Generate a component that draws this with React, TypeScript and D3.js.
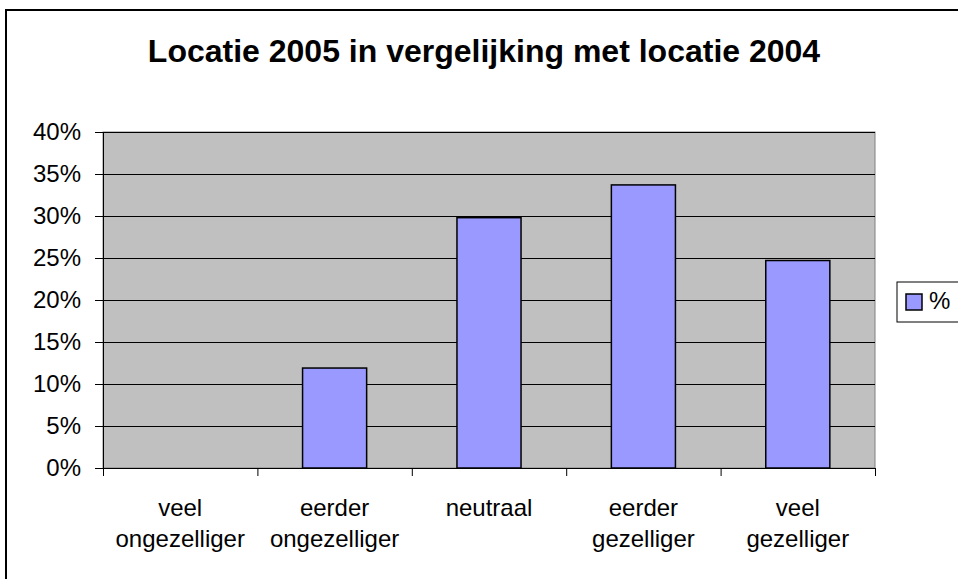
import React, { useEffect, useRef } from 'react';
import * as d3 from 'd3';

const categories = [
  ['veel', 'ongezelliger'],
  ['eerder', 'ongezelliger'],
  ['neutraal'],
  ['eerder', 'gezelliger'],
  ['veel', 'gezelliger'],
];
const values = [0, 11.9, 29.8, 33.7, 24.7];
const yTicks = [0, 5, 10, 15, 20, 25, 30, 35, 40];
const title = 'Locatie 2005 in vergelijking met locatie 2004';
const seriesName = '%';

const App: React.FC = () => {
  const svgRef = useRef<SVGSVGElement>(null);

  useEffect(() => {
    if (!svgRef.current) return;
    const svg = d3.select(svgRef.current);
    svg.selectAll('*').remove();

    const font = '"Liberation Sans", Arial, sans-serif';
    const plot = { left: 103, right: 875, top: 132, bottom: 468 };

    // outer chart frame
    svg.append('rect')
      .attr('x', 6).attr('y', 10)
      .attr('width', 1000).attr('height', 1000)
      .attr('fill', '#fff').attr('stroke', '#000').attr('stroke-width', 2);

    svg.append('text')
      .attr('x', 484).attr('y', 62)
      .attr('text-anchor', 'middle')
      .attr('font-family', font).attr('font-size', 32).attr('font-weight', 'bold')
      .text(title);

    const x = d3.scaleBand<number>()
      .domain(d3.range(categories.length))
      .range([plot.left, plot.right])
      .paddingInner(0.585).paddingOuter(0.2925);
    const band = (plot.right - plot.left) / categories.length;

    const y = d3.scaleLinear().domain([0, 40]).range([plot.bottom, plot.top]);

    svg.append('rect')
      .attr('x', plot.left).attr('y', plot.top)
      .attr('width', plot.right - plot.left).attr('height', plot.bottom - plot.top)
      .attr('fill', '#c0c0c0').attr('stroke', '#808080').attr('stroke-width', 1);

    // grid
    svg.append('g')
      .selectAll('line')
      .data(yTicks.slice(1))
      .join('line')
      .attr('x1', plot.left).attr('x2', plot.right)
      .attr('y1', d => y(d) + 0.5).attr('y2', d => y(d) + 0.5)
      .attr('stroke', '#000').attr('stroke-width', 1);

    // bars
    svg.append('g')
      .selectAll('rect')
      .data(values)
      .join('rect')
      .attr('x', (_, i) => x(i)!)
      .attr('y', d => y(d))
      .attr('width', x.bandwidth())
      .attr('height', d => plot.bottom - y(d))
      .attr('fill', d => (d > 0 ? '#9999ff' : 'none'))
      .attr('stroke', d => (d > 0 ? '#000' : 'none'))
      .attr('stroke-width', 1.5);

    // y axis
    const yAxis = svg.append('g');
    yAxis.append('line')
      .attr('x1', plot.left + 0.5).attr('x2', plot.left + 0.5)
      .attr('y1', plot.top).attr('y2', plot.bottom)
      .attr('stroke', '#000');
    yAxis.selectAll('line.tick')
      .data(yTicks)
      .join('line')
      .attr('class', 'tick')
      .attr('x1', plot.left - 8).attr('x2', plot.left)
      .attr('y1', d => y(d) + 0.5).attr('y2', d => y(d) + 0.5)
      .attr('stroke', '#000');
    yAxis.selectAll('text')
      .data(yTicks)
      .join('text')
      .attr('x', 81).attr('y', d => y(d) + 8)
      .attr('text-anchor', 'end')
      .attr('font-family', font).attr('font-size', 24)
      .text(d => `${d}%`);

    // x axis
    const xAxis = svg.append('g');
    xAxis.append('line')
      .attr('x1', plot.left).attr('x2', plot.right)
      .attr('y1', plot.bottom + 0.5).attr('y2', plot.bottom + 0.5)
      .attr('stroke', '#000');
    xAxis.selectAll('line.tick')
      .data(d3.range(categories.length + 1))
      .join('line')
      .attr('class', 'tick')
      .attr('x1', d => plot.left + d * band + 0.5).attr('x2', d => plot.left + d * band + 0.5)
      .attr('y1', plot.bottom).attr('y2', plot.bottom + 8)
      .attr('stroke', '#000');
    const labels = xAxis.selectAll('text')
      .data(categories)
      .join('text')
      .attr('x', (_, i) => x(i)! + x.bandwidth() / 2)
      .attr('y', 516)
      .attr('text-anchor', 'middle')
      .attr('font-family', font).attr('font-size', 24);
    labels.selectAll('tspan')
      .data(d => d)
      .join('tspan')
      .attr('x', function () {
        return (this.parentNode as SVGTextElement).getAttribute('x');
      })
      .attr('dy', (_, i) => (i === 0 ? 0 : 31))
      .text(d => d);

    // legend
    const legend = svg.append('g');
    legend.append('rect')
      .attr('x', 897).attr('y', 282)
      .attr('width', 80).attr('height', 40)
      .attr('fill', '#fff').attr('stroke', '#000').attr('stroke-width', 1);
    legend.append('rect')
      .attr('x', 906).attr('y', 294)
      .attr('width', 16).attr('height', 16)
      .attr('fill', '#9999ff').attr('stroke', '#000').attr('stroke-width', 1.5);
    legend.append('text')
      .attr('x', 929).attr('y', 309)
      .attr('font-family', font).attr('font-size', 24)
      .text(seriesName);
  }, []);

  return (
    <svg
      ref={svgRef}
      width={958}
      height={579}
      style={{ position: 'absolute', left: 0, top: 0, background: '#fff' }}
    />
  );
};

export default App;
